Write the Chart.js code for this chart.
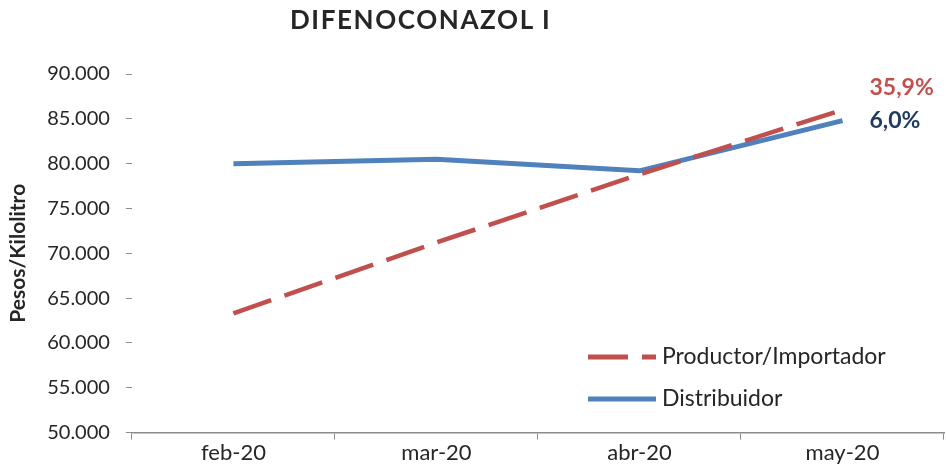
<!DOCTYPE html>
<html lang="es">
<head>
    <meta charset="UTF-8">
    <title>Difenoconazol I</title>
    <script src="https://cdn.jsdelivr.net/npm/chart.js"></script>
    <style>
        body { margin: 0; background: #fff; }
        .wrap { position: relative; width: 946px; height: 466px; }
        .title {
            position: absolute; left: 290px; top: 3px;
            font-family: Lato, "Open Sans", sans-serif; font-weight: bold;
            font-size: 26px; color: #262626; letter-spacing: 1.6px;
        }
    </style>
</head>
<body>
    <div class="wrap">
        <div class="title">DIFENOCONAZOL I</div>
        <canvas id="chart" width="946" height="466"></canvas>
    </div>

    <script>
        // data
        const months = ['feb-20', 'mar-20', 'abr-20', 'may-20'];
        const productor = [63300, 71200, 78800, 86000];
        const distribuidor = [80000, 80500, 79200, 84800];
        const changeLabels = ['35,9%', '6,0%'];

        const font = 'Lato, "Open Sans", sans-serif';

        // legend inside the plot + end labels
        const extras = {
            id: 'extras',
            afterDraw(chart) {
                const ctx = chart.ctx;
                const area = chart.chartArea;
                const sets = chart.data.datasets;
                ctx.save();

                // legend
                const lx = area.right - 356;
                const rows = [357, 399];
                sets.forEach((ds, i) => {
                    const y = rows[i];
                    ctx.beginPath();
                    ctx.strokeStyle = ds.borderColor;
                    ctx.lineWidth = 5;
                    ctx.setLineDash(ds.borderDash || []);
                    ctx.moveTo(lx, y);
                    ctx.lineTo(lx + 68, y);
                    ctx.stroke();
                    ctx.setLineDash([]);
                    ctx.fillStyle = '#262626';
                    ctx.font = '23px ' + font;
                    ctx.textAlign = 'left';
                    ctx.textBaseline = 'middle';
                    ctx.fillText(ds.label, lx + 74, y);
                });

                // end labels
                const labelColors = ['#C0504D', '#1F3A5F'];
                const dy = [-22, 0];
                sets.forEach((ds, i) => {
                    const pt = chart.getDatasetMeta(i).data[ds.data.length - 1];
                    ctx.fillStyle = labelColors[i];
                    ctx.font = 'bold 23px ' + font;
                    ctx.textAlign = 'left';
                    ctx.textBaseline = 'middle';
                    ctx.fillText(changeLabels[i], pt.x + 27, pt.y + dy[i]);
                });
                ctx.restore();
            }
        };

        new Chart(document.getElementById('chart'), {
            type: 'line',
            data: {
                labels: months,
                datasets: [
                    {
                        label: 'Productor/Importador',
                        data: productor,
                        borderColor: '#C0504D',
                        borderWidth: 4.5,
                        borderDash: [40, 14],
                        pointRadius: 0,
                        tension: 0
                    },
                    {
                        label: 'Distribuidor',
                        data: distribuidor,
                        borderColor: '#4F81BD',
                        borderWidth: 5,
                        pointRadius: 0,
                        tension: 0
                    }
                ]
            },
            options: {
                responsive: false,
                animation: false,
                layout: { padding: { top: 74, right: 2, left: 6, bottom: 0 } },
                plugins: {
                    legend: { display: false },
                    tooltip: { enabled: false }
                },
                scales: {
                    x: {
                        offset: true,
                        grid: {
                            offset: true,
                            drawOnChartArea: false,
                            drawTicks: true,
                            tickLength: 7,
                            color: '#8c8c8c'
                        },
                        border: { display: true, color: '#8c8c8c', width: 1.5 },
                        ticks: {
                            color: '#262626',
                            padding: 0,
                            font: { family: font, size: 22 }
                        }
                    },
                    y: {
                        min: 50000,
                        max: 90000,
                        grid: {
                            drawOnChartArea: false,
                            drawTicks: true,
                            tickLength: 6,
                            color: '#8c8c8c'
                        },
                        border: { display: false },
                        title: {
                            display: true,
                            text: 'Pesos/Kilolitro',
                            color: '#262626',
                            padding: 0,
                            font: { family: font, size: 21, weight: 'bold' }
                        },
                        ticks: {
                            stepSize: 5000,
                            color: '#262626',
                            padding: 16,
                            font: { family: font, size: 20 },
                            callback: v => v.toLocaleString('de-DE', { minimumFractionDigits: 0 }).replace(',', '.')
                        }
                    }
                }
            },
            plugins: [extras]
        });
    </script>
</body>
</html>
